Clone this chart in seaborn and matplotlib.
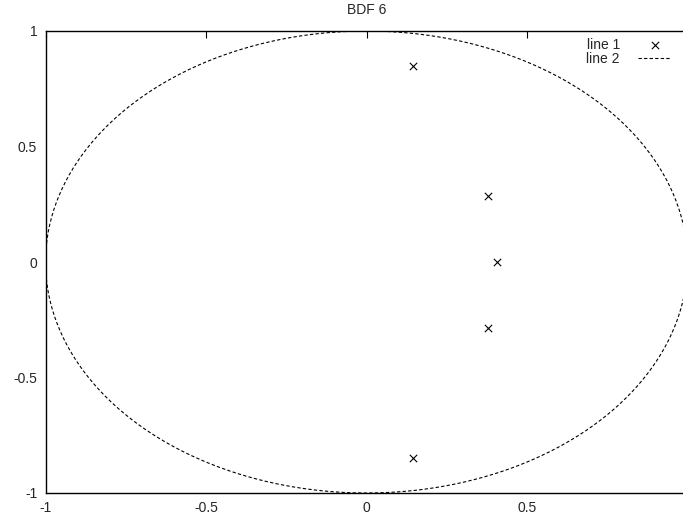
import numpy as np
import pandas as pd
import matplotlib
matplotlib.use("Agg")
import matplotlib.pyplot as plt
import seaborn as sns

# Roots (line 1)
root_re = [0.146, 0.377, 0.408, 0.377, 0.146]
root_im = [0.848, 0.286, 0.0, -0.286, -0.848]
# Unit circle (line 2)
radius = 1.0
n_circle = 400

xticks = [-1, -0.5, 0, 0.5]
yticks = [-1, -0.5, 0, 0.5, 1]
xtick_labels = ["-1", "-0.5", "0", "0.5"]
ytick_labels = ["-1", "-0.5", "0", "0.5", "1"]

sns.set_style("white")
plt.rcParams['font.family'] = ['Liberation Sans', 'DejaVu Sans']
plt.rcParams['axes.unicode_minus'] = False

theta = np.linspace(0, 2 * np.pi, n_circle)
circle = pd.DataFrame({"x": radius * np.cos(theta), "y": radius * np.sin(theta)})
roots = pd.DataFrame({"x": root_re, "y": root_im})

fig = plt.figure(figsize=(6.83, 5.15), dpi=100)
ax = fig.add_axes([45.5 / 683, 22 / 515, 642 / 683, 462 / 515])

sns.scatterplot(data=roots, x="x", y="y", marker="x", s=28, color="black",
                linewidth=0.8, ax=ax, label="line 1", zorder=3)
sns.lineplot(data=circle, x="x", y="y", sort=False, estimator=None, color="black",
             linewidth=0.8, ax=ax, label="line 2")
ax.lines[-1].set_dashes((3, 2))

ax.set_xlim(-1, 1)
ax.set_ylim(-1, 1)
ax.set_xticks(xticks)
ax.set_xticklabels(xtick_labels)
ax.set_yticks(yticks)
ax.set_yticklabels(ytick_labels)
ax.set_xlabel("")
ax.set_ylabel("")
ax.set_title("BDF 6", fontsize=10, pad=12)
ax.tick_params(direction="in", length=5, width=0.8, labelsize=10, color="black",
               top=True, right=False, pad=6)
for sp in ax.spines.values():
    sp.set_color("black")
    sp.set_linewidth(1.0)
ax.spines["right"].set_visible(False)

leg = ax.legend(loc="upper right", bbox_to_anchor=(0.990, 1.006), frameon=False,
                markerfirst=False, fontsize=10, handlelength=2.4,
                handletextpad=1.3, labelspacing=0.0, borderaxespad=0.3)
for line in leg.get_lines():
    line.set_dashes((3, 2))

fig.savefig("out.png", dpi=100)
